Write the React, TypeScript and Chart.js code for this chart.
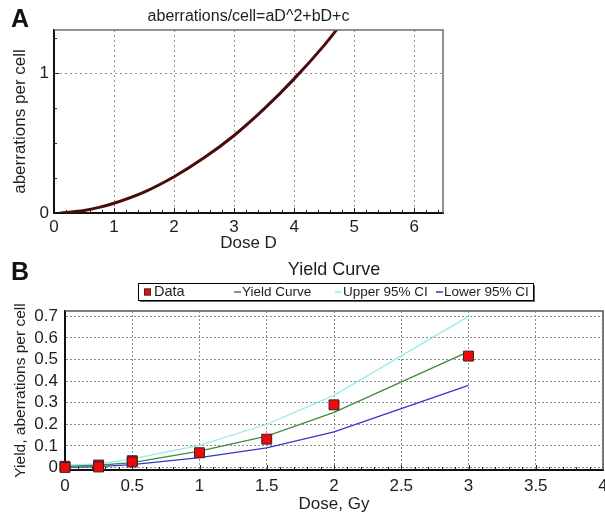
import React, { useEffect, useRef } from 'react';
import { Chart, registerables } from 'chart.js';

Chart.register(...registerables);

const FONT = 'Arial, "Liberation Sans", Helvetica, sans-serif';
const TEXT = '#1e1e1e';

// ---------- Panel A ----------
const A_LETTER = 'A';
const A_TITLE = 'aberrations/cell=aD^2+bD+c';
const A_X_TITLE = 'Dose D';
const A_Y_TITLE = 'aberrations per cell';
const A_DOSE = [0.1, 0.25, 0.5, 0.75, 1, 1.5, 2, 2.5, 3, 3.5, 4, 4.5, 4.75];
const A_ABERR = [0.0, 0.005, 0.018, 0.04, 0.07, 0.15, 0.26, 0.395, 0.555, 0.745, 0.96, 1.2, 1.335];
const A_X_TICKS = [0, 1, 2, 3, 4, 5, 6];
const A_Y_TICKS = [0, 1];

// ---------- Panel B ----------
const B_LETTER = 'B';
const B_TITLE = 'Yield Curve';
const B_X_TITLE = 'Dose, Gy';
const B_Y_TITLE = 'Yield, aberrations per cell';
const B_LEGEND = ['Data', 'Yield Curve', 'Upper 95% CI', 'Lower 95% CI'];
const B_POINT_DOSE = [0, 0, 0.25, 0.25, 0.5, 0.5, 1, 1.5, 2, 3];
const B_POINT_YIELD = [0.005, 0.0, 0.011, 0.002, 0.031, 0.025, 0.068, 0.131, 0.29, 0.516];
const B_CURVE_DOSE = [0, 0.25, 0.5, 1, 1.5, 2, 3];
const B_FIT = [0.005, 0.01, 0.022, 0.075, 0.145, 0.255, 0.537];
const B_UPPER = [0.01, 0.016, 0.04, 0.102, 0.2, 0.334, 0.7];
const B_LOWER = [0.0, 0.004, 0.013, 0.045, 0.091, 0.165, 0.38];
const B_X_TICKS = [0, 0.5, 1, 1.5, 2, 2.5, 3, 3.5, 4];
const B_Y_TICKS = [0, 0.1, 0.2, 0.3, 0.4, 0.5, 0.6, 0.7];

const pts = (xs: number[], ys: number[]) => xs.map((x, i) => ({ x, y: ys[i] }));
const setTicks = (vals: number[]) => (s: any) => {
  s.ticks = vals.map((v) => ({ value: v }));
};
const plainLabel = (v: any) => String(v);

const panelAPlugin = {
  id: 'panelA',
  afterDraw(chart: any) {
    const { ctx, chartArea, scales } = chart;
    const { left, right, top, bottom } = chartArea;
    ctx.save();
    ctx.strokeStyle = '#7a6a62';
    ctx.lineWidth = 1.5;
    ctx.beginPath();
    ctx.moveTo(left, top);
    ctx.lineTo(right, top);
    ctx.lineTo(right, bottom);
    ctx.stroke();
    ctx.strokeStyle = '#222';
    ctx.lineWidth = 1;
    ctx.beginPath();
    for (let i = 1; i * 0.2 < scales.x.max; i++) {
      const px = Math.round(scales.x.getPixelForValue(i * 0.2)) + 0.5;
      const len = i % 5 === 0 ? 5 : 3;
      ctx.moveTo(px, bottom);
      ctx.lineTo(px, bottom - len);
    }
    for (let i = 1; i * 0.25 < scales.y.max; i++) {
      const py = Math.round(scales.y.getPixelForValue(i * 0.25)) + 0.5;
      const len = i % 4 === 0 ? 5 : 3;
      ctx.moveTo(left, py);
      ctx.lineTo(left + len, py);
    }
    ctx.stroke();
    ctx.fillStyle = TEXT;
    ctx.textBaseline = 'middle';
    ctx.textAlign = 'center';
    ctx.font = `16px ${FONT}`;
    ctx.fillText(A_TITLE, (left + right) / 2, 17);
    ctx.textAlign = 'left';
    ctx.font = `bold 25px ${FONT}`;
    ctx.fillStyle = '#111';
    ctx.fillText(A_LETTER, 11, 20);
    ctx.restore();
  },
};

const panelBPlugin = {
  id: 'panelB',
  afterDraw(chart: any) {
    const { ctx, chartArea, scales, data } = chart;
    const { left, right, top, bottom } = chartArea;
    ctx.save();
    ctx.strokeStyle = '#555';
    ctx.lineWidth = 1.5;
    ctx.beginPath();
    ctx.moveTo(left, top);
    ctx.lineTo(right, top);
    ctx.lineTo(right, bottom);
    ctx.stroke();
    ctx.strokeStyle = '#222';
    ctx.lineWidth = 1;
    ctx.beginPath();
    for (let i = 1; i * 0.1 < scales.x.max; i++) {
      const px = Math.round(scales.x.getPixelForValue(i * 0.1)) + 0.5;
      const len = i % 5 === 0 ? 5 : 3;
      ctx.moveTo(px, bottom);
      ctx.lineTo(px, bottom - len);
    }
    ctx.stroke();
    ctx.fillStyle = TEXT;
    ctx.textBaseline = 'middle';
    ctx.textAlign = 'center';
    ctx.font = `18px ${FONT}`;
    ctx.fillText(B_TITLE, (left + right) / 2, 15);
    ctx.textAlign = 'left';
    ctx.font = `bold 25px ${FONT}`;
    ctx.fillStyle = '#111';
    ctx.fillText(B_LETTER, 11, 18);
    // legend box
    const bx0 = 138, by0 = 28, bx1 = 533, by1 = 45;
    ctx.fillStyle = '#666';
    ctx.fillRect(bx0 + 2, by0 + 2, bx1 - bx0, by1 - by0);
    ctx.fillStyle = '#fff';
    ctx.fillRect(bx0, by0, bx1 - bx0, by1 - by0);
    ctx.strokeStyle = '#000';
    ctx.lineWidth = 1;
    ctx.strokeRect(bx0 + 0.5, by0 + 0.5, bx1 - bx0, by1 - by0);
    const cy = (by0 + by1) / 2 + 0.5;
    const itemX = [144, 234, 335, 436];
    ctx.font = `13.5px ${FONT}`;
    data.datasets.forEach((ds: any, i: number) => {
      const x = itemX[i];
      let tx;
      if (i === 0) {
        ctx.fillStyle = ds.pointBackgroundColor;
        ctx.fillRect(x, cy - 3.5, 7, 7);
        ctx.strokeStyle = '#333';
        ctx.strokeRect(x + 0.5, cy - 3, 6, 6);
        ctx.font = `14.5px ${FONT}`;
        tx = x + 10;
      } else {
        ctx.strokeStyle = ds.borderColor;
        ctx.lineWidth = 1.5;
        ctx.beginPath();
        ctx.moveTo(x, cy);
        ctx.lineTo(x + 7, cy);
        ctx.stroke();
        ctx.font = `13.5px ${FONT}`;
        tx = x + 8;
      }
      ctx.fillStyle = TEXT;
      ctx.fillText(ds.label, tx, cy);
    });
    ctx.restore();
  },
};

function configA(): any {
  return {
    type: 'line',
    data: {
      datasets: [
        {
          label: A_TITLE,
          data: pts(A_DOSE, A_ABERR),
          borderColor: '#4c0b0b',
          borderWidth: 3,
          pointRadius: 0,
          cubicInterpolationMode: 'monotone',
          fill: false,
          clip: 0,
        },
      ],
    },
    options: {
      animation: false,
      responsive: false,
      devicePixelRatio: 1,
      layout: { autoPadding: false, padding: { left: 0, top: 30, right: 17, bottom: 0 } },
      plugins: { legend: { display: false }, tooltip: { enabled: false }, title: { display: false } },
      scales: {
        x: {
          type: 'linear',
          min: 0,
          max: 6.48,
          afterBuildTicks: setTicks(A_X_TICKS),
          afterFit: (s: any) => {
            s.height = 42;
            s.paddingLeft = 0;
            s.paddingRight = 0;
          },
          grid: { color: '#a58b7c', lineWidth: 1, drawTicks: false },
          border: { display: true, color: '#111', width: 2, dash: [2, 3] },
          ticks: { padding: 4, autoSkip: false, color: TEXT, font: { family: FONT, size: 17 }, callback: plainLabel },
          title: {
            display: true,
            text: A_X_TITLE,
            color: TEXT,
            font: { family: FONT, size: 17, lineHeight: 1 },
            padding: { top: 0, bottom: 3 },
          },
        },
        y: {
          type: 'linear',
          min: 0,
          max: 1.31,
          afterBuildTicks: setTicks(A_Y_TICKS),
          afterFit: (s: any) => {
            s.width = 54;
            s.paddingTop = 0;
            s.paddingBottom = 0;
          },
          grid: { color: '#a58b7c', lineWidth: 1, drawTicks: false },
          border: { display: true, color: '#111', width: 2, dash: [2, 3] },
          ticks: { padding: 5, autoSkip: false, color: TEXT, font: { family: FONT, size: 17 }, callback: plainLabel },
          title: {
            display: true,
            text: A_Y_TITLE,
            color: TEXT,
            font: { family: FONT, size: 17, lineHeight: 1.2 },
            padding: { top: 10, bottom: 0 },
          },
        },
      },
    },
    plugins: [panelAPlugin],
  };
}

function configB(): any {
  const lineBase = { pointRadius: 0, borderWidth: 1.3, tension: 0, fill: false, order: 1 };
  return {
    type: 'line',
    data: {
      datasets: [
        {
          label: B_LEGEND[0],
          data: pts(B_POINT_DOSE, B_POINT_YIELD),
          showLine: false,
          pointStyle: 'rect',
          pointRadius: 7,
          pointBackgroundColor: '#ee0a0a',
          pointBorderColor: '#3a2020',
          pointBorderWidth: 1,
          order: 0,
          clip: false,
        },
        { ...lineBase, label: B_LEGEND[1], data: pts(B_CURVE_DOSE, B_FIT), borderColor: '#3f8a3f' },
        { ...lineBase, label: B_LEGEND[2], data: pts(B_CURVE_DOSE, B_UPPER), borderColor: '#96ecec' },
        { ...lineBase, label: B_LEGEND[3], data: pts(B_CURVE_DOSE, B_LOWER), borderColor: '#3535c8' },
      ],
    },
    options: {
      animation: false,
      responsive: false,
      devicePixelRatio: 1,
      layout: { autoPadding: false, padding: { left: 0, top: 56, right: 2, bottom: 0 } },
      plugins: { legend: { display: false }, tooltip: { enabled: false }, title: { display: false } },
      scales: {
        x: {
          type: 'linear',
          min: 0,
          max: 4,
          afterBuildTicks: setTicks(B_X_TICKS),
          afterFit: (s: any) => {
            s.height = 43;
            s.paddingLeft = 0;
            s.paddingRight = 0;
          },
          grid: { color: '#8c8c8c', lineWidth: 1, drawTicks: false },
          border: { display: true, color: '#111', width: 2, dash: [2, 2] },
          ticks: { padding: 6, autoSkip: false, color: TEXT, font: { family: FONT, size: 17 }, callback: plainLabel },
          title: {
            display: true,
            text: B_X_TITLE,
            color: TEXT,
            font: { family: FONT, size: 17, lineHeight: 1 },
            padding: { top: 0, bottom: 0 },
          },
        },
        y: {
          type: 'linear',
          min: -0.012,
          max: 0.725,
          afterBuildTicks: setTicks(B_Y_TICKS),
          afterFit: (s: any) => {
            s.width = 65;
            s.paddingTop = 0;
            s.paddingBottom = 0;
          },
          grid: { color: '#8c8c8c', lineWidth: 1, drawTicks: false },
          border: { display: true, color: '#111', width: 2, dash: [2, 2] },
          ticks: { padding: 7, autoSkip: false, color: TEXT, font: { family: FONT, size: 17 }, callback: plainLabel },
          title: {
            display: true,
            text: B_Y_TITLE,
            color: TEXT,
            font: { family: FONT, size: 15.5, lineHeight: 1.2 },
            padding: { top: 11, bottom: 0 },
          },
        },
      },
    },
    plugins: [panelBPlugin],
  };
}

export default function App() {
  const refA = useRef<HTMLCanvasElement>(null);
  const refB = useRef<HTMLCanvasElement>(null);
  useEffect(() => {
    const a = new Chart(refA.current as HTMLCanvasElement, configA());
    const b = new Chart(refB.current as HTMLCanvasElement, configB());
    return () => {
      a.destroy();
      b.destroy();
    };
  }, []);
  return (
    <div
      style={{
        position: 'fixed',
        left: 0,
        top: 0,
        width: 605,
        height: 513,
        overflow: 'hidden',
        background: '#fff',
      }}
    >
      <canvas
        ref={refA}
        width={460}
        height={255}
        style={{ position: 'absolute', left: 0, top: 0, width: 460, height: 255 }}
      />
      <canvas
        ref={refB}
        width={605}
        height={258}
        style={{ position: 'absolute', left: 0, top: 255, width: 605, height: 258 }}
      />
    </div>
  );
}
